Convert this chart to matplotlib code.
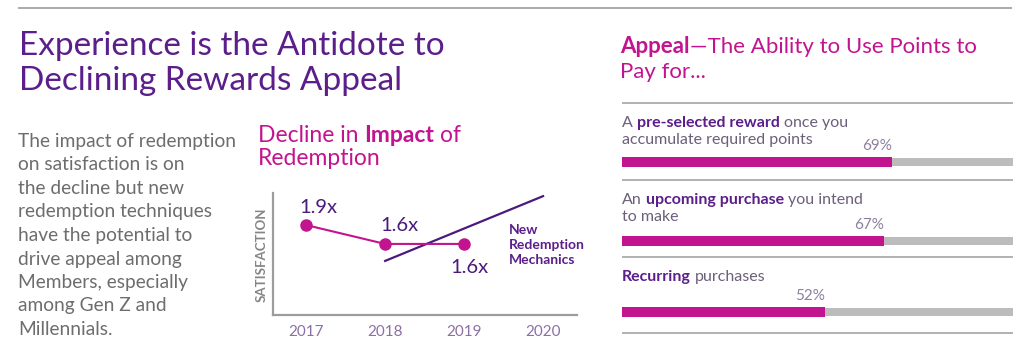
"""Infographic: experience vs. declining rewards appeal."""

import matplotlib

matplotlib.use("Agg")
import matplotlib.pyplot as plt

plt.rcParams["font.family"] = ["Lato", "DejaVu Sans"]

W, H = 1023, 354

PURPLE = "#5b1e8a"
DARK_PURPLE = "#4a1a7c"
MAGENTA = "#c3148f"
BODY_GRAY = "#6d6d6d"
LABEL_GRAY = "#6c5f7a"
PCT_GRAY = "#8e7f9c"
YEAR_COLOR = "#8d6fa6"
RULE = "#9c9c9c"
TRACK = "#bcbcbc"

# --- data -------------------------------------------------------------
impact_years = [2017, 2018, 2019]
impact_values = [1.9, 1.6, 1.6]
impact_labels = ["1.9x", "1.6x", "1.6x"]
year_ticks = [2017, 2018, 2019, 2020]
mechanics_years = [2018, 2020]
mechanics_level = [1.33, 2.36]

appeal_values = [69, 67, 52]
appeal_labels = [
    [[("A", False), ("pre-selected reward", True), ("once you", False)],
     [("accumulate required points", False)]],
    [[("An", False), ("upcoming purchase", True), ("you intend", False)],
     [("to make", False)]],
    [[("Recurring", True), ("purchases", False)]],
]

title_lines = ["Experience is the Antidote to", "Declining Rewards Appeal"]
body_lines = [
    "The impact of redemption",
    "on satisfaction is on",
    "the decline but new",
    "redemption techniques",
    "have the potential to",
    "drive appeal among",
    "Members, especially",
    "among Gen Z and",
    "Millennials.",
]

fig = plt.figure(figsize=(W / 100, H / 100), dpi=100)
fig.patch.set_facecolor("white")

# background axes in pixel coordinates (y down)
bg = fig.add_axes([0, 0, 1, 1])
bg.set_xlim(0, W)
bg.set_ylim(H, 0)
bg.axis("off")
renderer = fig.canvas.get_renderer()


def px_axes(left, top, right, bottom):
    return fig.add_axes(
        [left / W, 1 - bottom / H, (right - left) / W, (bottom - top) / H]
    )


def space_width(size, bold):
    weight = "bold" if bold else "normal"
    widths = []
    for s in ("n n", "nn"):
        t = bg.text(0, 0, s, fontsize=size, fontweight=weight)
        bb = t.get_window_extent(renderer).transformed(bg.transData.inverted())
        widths.append(bb.x1 - bb.x0)
        t.remove()
    return widths[0] - widths[1]


def rich_line(x, y, runs, size, color, bold_color):
    """Draw runs of regular/bold text on one baseline, one space apart."""
    for i, (text, bold) in enumerate(runs):
        if i > 0 and not text.startswith("\u2014"):
            x += space_width(size, bold)
        t = bg.text(
            x, y, text, fontsize=size,
            fontweight="bold" if bold else "normal",
            color=bold_color if bold else color,
            va="baseline", ha="left",
        )
        bb = t.get_window_extent(renderer).transformed(bg.transData.inverted())
        x = bb.x1


# top rule
bg.plot([18, 1012], [7.5, 7.5], color=RULE, lw=1.2, solid_capstyle="butt")

# left title and body copy
for i, line in enumerate(title_lines):
    bg.text(19, 55 + 35 * i, line, fontsize=24, color=PURPLE, va="baseline")
for i, line in enumerate(body_lines):
    bg.text(18, 147 + 23.5 * i, line, fontsize=13.8, color=BODY_GRAY,
            va="baseline")

# chart subtitle
rich_line(258, 142, [("Decline in", False), ("Impact", True), ("of", False)],
          16.5, MAGENTA, MAGENTA)
bg.text(258, 165, "Redemption", fontsize=16.5, color=MAGENTA, va="baseline")

# line chart
ax = px_axes(273, 193, 577, 315)
ax.set_facecolor("none")
ax.set_xlim(2016.58, 2020.43)
ax.set_ylim(0.47, 2.41)
for side in ("top", "right"):
    ax.spines[side].set_visible(False)
for side in ("left", "bottom"):
    ax.spines[side].set_color(RULE)
    ax.spines[side].set_linewidth(1.6)
ax.set_yticks([])
ax.set_xticks(year_ticks)
ax.set_xticklabels([str(y) for y in year_ticks])
ax.tick_params(axis="x", length=0, pad=7, labelsize=11, labelcolor=YEAR_COLOR)

ax.plot(mechanics_years, mechanics_level, color=DARK_PURPLE, lw=1.6)
ax.plot(impact_years, impact_values, color=MAGENTA, lw=1.5,
        marker="o", markersize=8, zorder=3)
offsets = [(9, 13), (10, 13), (4, -17)]
for xv, yv, lab, off in zip(impact_years, impact_values, impact_labels, offsets):
    ax.annotate(lab, (xv, yv), xytext=off, textcoords="offset points",
                ha="center", va="center", fontsize=14.5, color=DARK_PURPLE)

bg.text(262, 255, "SATISFACTION", rotation=90, fontsize=9.5, fontweight="bold",
        color="#858585", ha="center", va="center")
for i, line in enumerate(["New", "Redemption", "Mechanics"]):
    bg.text(509, 230 + 15 * i, line, fontsize=10, fontweight="bold",
            color=PURPLE, va="center")

# right panel heading
rich_line(620, 53, [("Appeal", True), ("\u2014The Ability to Use Points to", False)],
          16, MAGENTA, MAGENTA)
bg.text(620, 78, "Pay for...", fontsize=16, color=MAGENTA, va="baseline")

# separators
for y in (103, 180, 257, 333):
    bg.plot([622, 1013], [y, y], color=RULE, lw=1.1, solid_capstyle="butt")

# bars with labels
section_tops = [103, 180, 257]
bar_centers = [162, 241, 312]
for top, yc, value, label in zip(section_tops, bar_centers, appeal_values,
                                 appeal_labels):
    for j, runs in enumerate(label):
        rich_line(622, top + 24 + 17 * j, runs, 11.5, LABEL_GRAY, PURPLE)
    bax = px_axes(622, yc - 12, 1013, yc + 12)
    bax.set_facecolor("none")
    bax.set_xlim(0, 100)
    bax.set_ylim(-1, 1)
    bax.axis("off")
    bax.barh(0, 100, height=0.62, color=TRACK)
    bax.barh(0, value, height=0.85, color=MAGENTA)
    bax.text(value, 0.75, f"{value}%", ha="right", va="bottom",
             fontsize=11, color=PCT_GRAY)

fig.savefig("out.png", dpi=100)
